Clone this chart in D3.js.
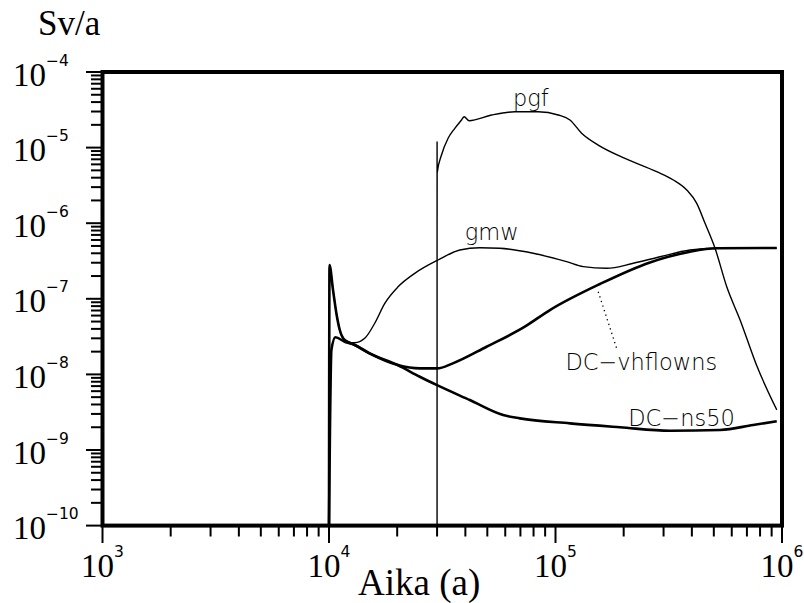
<!DOCTYPE html>
<html>
<head>
<meta charset="utf-8">
<script src="https://cdn.jsdelivr.net/npm/d3@7"></script>
<style>
  body { margin: 0; background: #fff; }
  .serif { font-family: "Liberation Serif", "Times New Roman", serif; }
  .sans { font-family: "DejaVu Sans", sans-serif; }
</style>
</head>
<body>
<svg id="chart" width="804" height="603"></svg>
<script>
// decade exponents on the axes
var xExps = [3, 4, 5, 6];
var yExps = [-4, -5, -6, -7, -8, -9, -10];

// [time (a), dose rate (Sv/a)]
var pgfData = [[30000,1e-10],[30005,1.2e-5],[30010,1.22e-6],[30020,4.6e-6],[31380,7.98e-6],
  [33560,1.33e-5],[35930,1.8e-5],[38460,2.32e-5],[39500,2.56e-5],[41560,2.27e-5],[52200,2.7e-5],
  [66150,2.98e-5],[83850,2.98e-5],[102800,2.7e-5],[115800,2.32e-5],[130400,1.55e-5],[154400,1.08e-5],
  [202600,7.2e-6],[279700,4.8e-6],[331300,3.73e-6],[379700,2.75e-6],[420300,1.83e-6],[457300,9.97e-7],
  [506300,4.66e-7],[570300,1.44e-7],[653100,5.25e-8],[773900,1.3e-8],[948000,3.4e-9]];

var gmwData = [[10000,1e-10],[10050,2.8e-7],[10416,1.31e-7],[10782,6.4e-8],[11150,3.9e-8],[11730,2.85e-8],
  [12990,2.62e-8],[14380,3.0e-8],[15920,4.75e-8],[17630,8.7e-8],[20180,1.44e-7],[23910,2.17e-7],
  [30310,3.26e-7],[37810,4.42e-7],[46350,4.74e-7],[56800,4.66e-7],[79700,4.0e-7],[111900,3.1e-7],
  [132600,2.66e-7],[168200,2.53e-7],[220500,2.95e-7],[289300,3.6e-7],[392600,4.42e-7],[515100,4.66e-7],
  [948000,4.68e-7]];

var ns50Data = [[10000,1e-10],[10050,2.8e-7],[10416,1.31e-7],[10782,6.4e-8],[11150,3.9e-8],[11730,2.85e-8],
  [12990,2.45e-8],[15100,1.9e-8],[20100,1.33e-8],[25170,9.3e-9],[30000,7.2e-9],[41850,4.58e-9],
  [58740,2.9e-9],[69600,2.62e-9],[115800,2.25e-9],[192600,2.0e-9],[320300,1.8e-9],[532700,1.84e-9],
  [745400,2.14e-9],[948000,2.4e-9]];

var vhflownsData = [[10000,1e-10],[10247,2.1e-8],[10673,3.1e-8],[11730,2.7e-8],[12990,2.45e-8],
  [15100,1.9e-8],[20100,1.33e-8],[25170,1.2e-8],[30000,1.2e-8],[35200,1.4e-8],[49600,2.32e-8],
  [73200,4.28e-8],[94500,7.1e-8],[157100,1.57e-7],[261200,3.03e-7],[392600,4.2e-7],[515100,4.66e-7],
  [948000,4.7e-7]];

// curve labels: [text, time, value]
var curveLabels = [["pgf", 64900, 3.5e-5], ["gmw", 39780, 6.0e-7],
  ["DC\u2212vhflowns", 110600, 1.14e-8], ["DC\u2212ns50", 209600, 2.07e-9]];
var leader = [[154400, 1.24e-7], [186200, 2.21e-8]];

var svg = d3.select("#chart");

var x = d3.scaleLog().domain([1e3, 1e6]).range([102.5, 782]);
var y = d3.scaleLog().domain([1e-10, 1e-4]).range([525.6, 72]);

var line = d3.line()
    .x(function(d) { return x(d[0]); })
    .y(function(d) { return y(d[1]); })
    .curve(d3.curveMonotoneX);

// curves
svg.append("path").datum(pgfData).attr("d", line)
    .attr("fill", "none").attr("stroke", "#000").attr("stroke-width", 1.4);
svg.append("path").datum(gmwData).attr("d", line)
    .attr("fill", "none").attr("stroke", "#000").attr("stroke-width", 1.4);
[ns50Data, vhflownsData].forEach(function(s) {
  svg.append("path").datum(s).attr("d", line)
      .attr("fill", "none").attr("stroke", "#000").attr("stroke-width", 2.6)
      .attr("stroke-linejoin", "round");
});

// dotted leader for DC-vhflowns
svg.append("path").datum(leader).attr("d", d3.line().x(function(d) { return x(d[0]); }).y(function(d) { return y(d[1]); }))
    .attr("stroke", "#000").attr("stroke-width", 1.3).attr("stroke-dasharray", "1.3,3.5");

svg.selectAll(".clabel")
  .data(curveLabels)
  .enter().append("text")
    .attr("class", "clabel sans")
    .attr("x", function(d) { return x(d[1]); })
    .attr("y", function(d) { return y(d[2]); })
    .attr("font-size", 22.5)
    .attr("font-weight", 200)
    .text(function(d) { return d[0]; });

// ticks
var xt = x.ticks();
svg.append("g").selectAll("line")
  .data(xt)
  .enter().append("line")
    .attr("x1", x).attr("x2", x)
    .attr("y1", 525.6)
    .attr("y2", function(d) { return xExps.indexOf(Math.round(Math.log10(d))) >= 0 && Math.abs(Math.log10(d) % 1) < 1e-9 ? 543 : 536.5; })
    .attr("stroke", "#000").attr("stroke-width", 2);

var yt = y.ticks();
svg.append("g").selectAll("line")
  .data(yt)
  .enter().append("line")
    .attr("y1", y).attr("y2", y)
    .attr("x2", 102.5)
    .attr("x1", function(d) { return Math.abs(Math.log10(d) - Math.round(Math.log10(d))) < 1e-9 ? 86 : 91; })
    .attr("stroke", "#000").attr("stroke-width", 2);

function sup(e) { return String(e).replace("-", "\u2212"); }

var xl = svg.append("g").selectAll("text")
  .data(xExps)
  .enter().append("text")
    .attr("x", function(d) { return x(Math.pow(10, d)); })
    .attr("y", 577)
    .attr("text-anchor", "middle");
xl.append("tspan").attr("class", "serif").attr("font-size", 33).text("10");
xl.append("tspan").attr("class", "sans").attr("font-size", 15.5).attr("dy", -20).text(function(d) { return sup(d); });

var yl = svg.append("g").selectAll("text")
  .data(yExps)
  .enter().append("text")
    .attr("x", 13)
    .attr("y", function(d) { return y(Math.pow(10, d)) + 13.5; });
yl.append("tspan").attr("class", "serif").attr("font-size", 33).text("10");
yl.append("tspan").attr("class", "sans").attr("font-size", 15.5).attr("dy", -20).text(function(d) { return sup(d); });

// axis titles
svg.append("text").attr("class", "serif").attr("x", 38).attr("y", 35)
    .attr("font-size", 35).text("Sv/a");
svg.append("text").attr("class", "serif").attr("x", 358).attr("y", 595)
    .attr("font-size", 37).text("Aika (a)");

// frame
svg.append("rect")
    .attr("x", x(1e3)).attr("y", y(1e-4))
    .attr("width", x(1e6) - x(1e3)).attr("height", y(1e-10) - y(1e-4))
    .attr("fill", "none").attr("stroke", "#000").attr("stroke-width", 4);
</script>
</body>
</html>
